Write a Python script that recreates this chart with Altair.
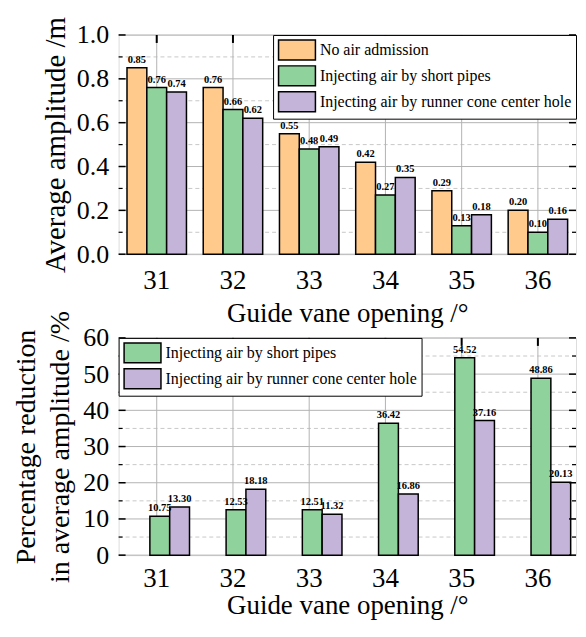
import altair as alt
import pandas as pd

openings = ["31", "32", "33", "34", "35", "36"]
series_top = ["No air admission", "Injecting air by short pipes", "Injecting air by runner cone center hole"]
no_air = [0.85, 0.76, 0.55, 0.42, 0.29, 0.20]
short_pipes = [0.76, 0.66, 0.48, 0.27, 0.13, 0.10]
cone_hole = [0.74, 0.62, 0.49, 0.35, 0.18, 0.16]

series_bot = ["Injecting air by short pipes", "Injecting air by runner cone center hole"]
red_short = [10.75, 12.53, 12.51, 36.42, 54.52, 48.86]
red_cone = [13.30, 18.18, 11.32, 16.86, 37.16, 20.13]

top_major = [0.0, 0.2, 0.4, 0.6, 0.8, 1.0]
top_minor = [0.1, 0.3, 0.5, 0.7, 0.9]
bot_major = [0, 10, 20, 30, 40, 50, 60]
bot_minor = [5, 15, 25, 35, 45, 55]

colors_top = ["#FFCA8C", "#90D29B", "#C4B4D9"]
colors_bot = ["#90D29B", "#C4B4D9"]

FONT = "Liberation Serif"
W1, H1 = 459, 220
W2, H2 = 459, 218

top_df = pd.DataFrame(
    [{"opening": o, "series": s, "value": v}
     for s, vals in zip(series_top, [no_air, short_pipes, cone_hole])
     for o, v in zip(openings, vals)]
)
bot_df = pd.DataFrame(
    [{"opening": o, "series": s, "value": v}
     for s, vals in zip(series_bot, [red_short, red_cone])
     for o, v in zip(openings, vals)]
)

RECT = "M-1.85,-1H1.85V1H-1.85Z"


def panel(df, series, colors, major, minor, domain, W, H, pad_inner, ytitle, legend_orient, yfmt,
          ytitle_pad, ytitle_size, xlabel_pad, xtitle_pad):
    xscale = alt.Scale(domain=openings, paddingInner=pad_inner, paddingOuter=pad_inner / 2)
    yscale = alt.Scale(domain=domain, nice=False, zero=True)
    x = alt.X("opening:N", scale=xscale, sort=openings,
              axis=alt.Axis(title="Guide vane opening /°", labelAngle=0, labelFont=FONT,
                            labelFontSize=27, labelColor="black", titleFont=FONT,
                            titleFontSize=27, titleFontWeight="normal", titleColor="black",
                            domain=False, ticks=False, labelPadding=xlabel_pad,
                            titlePadding=xtitle_pad, grid=False))
    yaxis = alt.Axis(title=ytitle, values=major, format=yfmt, labelFont=FONT,
                     labelFontSize=26, labelColor="black", titleFont=FONT,
                     titleFontSize=ytitle_size, titleFontWeight="normal", titleColor="black",
                     titleLineHeight=34, domain=False, ticks=False, grid=False,
                     labelOverlap=False, labelPadding=10, titlePadding=ytitle_pad)

    def Y(field):
        return alt.Y(field, scale=yscale, axis=yaxis)

    maj_df = pd.DataFrame({"v": major})
    min_df = pd.DataFrame({"v": minor})
    cat_df = pd.DataFrame({"opening": openings})

    grid_major = alt.Chart(maj_df).mark_rule(color="#b3b3b3", strokeWidth=1).encode(y=Y("v:Q"))
    grid_minor = alt.Chart(min_df).mark_rule(color="#c8c8c8", strokeWidth=1, strokeDash=[4, 3]).encode(
        y=Y("v:Q"))
    vgrid = alt.Chart(cat_df).mark_rule(color="#b3b3b3", strokeWidth=1).encode(x=x)
    top_ticks = alt.Chart(cat_df).mark_rule(color="black", strokeWidth=2).encode(
        x=x, y=alt.value(0), y2=alt.value(8))

    xoff = alt.XOffset("series:N", sort=series,
                       scale=alt.Scale(domain=series, paddingInner=0, paddingOuter=0))
    bars = alt.Chart(df).mark_bar(stroke="black", strokeWidth=1.5).encode(
        x=x,
        xOffset=xoff,
        y=Y("value:Q"),
        color=alt.Color("series:N", sort=series,
                        scale=alt.Scale(domain=series, range=colors),
                        legend=alt.Legend(title=None, orient=legend_orient, offset=0,
                                          labelFont=FONT, labelFontSize=16, labelColor="black",
                                          symbolType=RECT, symbolSize=400, symbolStrokeColor="black",
                                          symbolStrokeWidth=1.5, symbolOpacity=1,
                                          symbolOffset=9, labelOffset=12, rowPadding=0,
                                          padding=4, strokeColor="black", fillColor="white",
                                          labelLimit=400)),
    )
    labels = alt.Chart(df).mark_text(font=FONT, fontSize=10.5, fontWeight="bold", baseline="bottom",
                                     dy=-3, color="black").encode(
        x=x,
        xOffset=xoff,
        y=Y("value:Q"),
        text=alt.Text("value:Q", format=".2f"),
    )
    lt_major = alt.Chart(maj_df).mark_rule(color="black", strokeWidth=1.5).encode(
        y=Y("v:Q"), x=alt.value(0), x2=alt.value(7))
    lt_minor = alt.Chart(min_df).mark_rule(color="black", strokeWidth=1.2).encode(
        y=Y("v:Q"), x=alt.value(0), x2=alt.value(4))
    rt_major = alt.Chart(maj_df).mark_rule(color="black", strokeWidth=1.5).encode(
        y=Y("v:Q"), x=alt.value(W - 7), x2=alt.value(W))
    rt_minor = alt.Chart(min_df).mark_rule(color="black", strokeWidth=1.2).encode(
        y=Y("v:Q"), x=alt.value(W - 4), x2=alt.value(W))

    return alt.layer(grid_major, grid_minor, vgrid, bars, labels, top_ticks,
                     lt_major, lt_minor, rt_major, rt_minor).properties(width=W, height=H)


top = panel(top_df, series_top, colors_top, top_major, top_minor, [0, 1], W1, H1, 0.22,
            "Average amplitude /m", "top-right", ".1f", 6, 29, 13, 8)
bot = panel(bot_df, series_bot, colors_bot, bot_major, bot_minor, [0, 60], W2, H2, 0.30,
            ["Percentage reduction", "in average amplitude /%"], "top-left", "d", 8, 28, 10, 2)

chart = alt.vconcat(top, bot, spacing=-18).resolve_scale(color="independent").properties(
    padding={"top": 6, "left": 4, "right": 0, "bottom": 0}
).configure_view(stroke="black", strokeWidth=1.5).configure_legend(
    labelFont=FONT
).configure_text(font=FONT).configure(background="white", font=FONT)

chart.save("out.html", embed_options={"renderer": "svg", "actions": False})
